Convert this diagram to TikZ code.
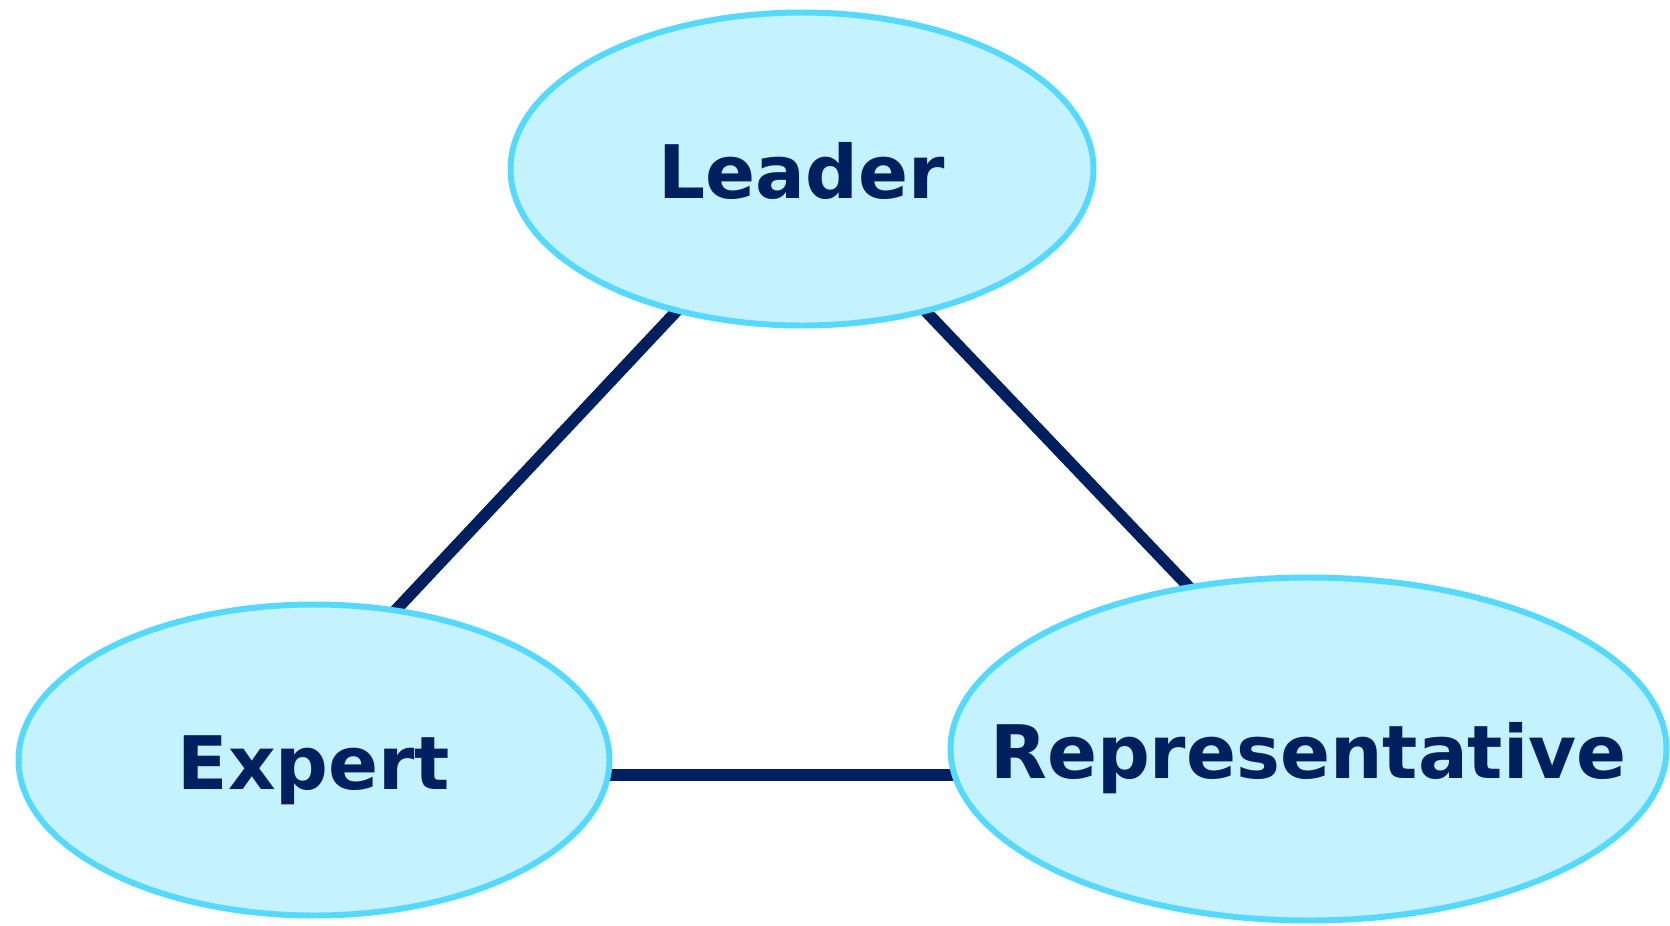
\documentclass[tikz,border=0pt]{standalone}
\usepackage{fontspec}
\setmainfont{DejaVu Sans}
\usetikzlibrary{shapes.geometric,backgrounds}
\definecolor{rolefill}{HTML}{C4F2FF}
\definecolor{roleline}{HTML}{55D9FF}
\definecolor{navy}{HTML}{001F5F}
\begin{document}
\begin{tikzpicture}[
		role/.style={ellipse, line width=1.7pt, draw=roleline, fill=rolefill, text=navy,
			font=\fontsize{21pt}{25pt}\selectfont\bfseries, inner xsep=-0.7cm, inner ysep=0pt,
			text height=0.58cm, text depth=0pt},
		link/.style={line width=3.3pt, draw=navy}
	]
		\useasboundingbox (0,0) rectangle (16.70,-9.26);

		\node[role, minimum width=5.83cm, minimum height=3.13cm] (leader) at (8.02,-1.69) {Leader};
		\node[role, minimum width=5.91cm, minimum height=3.11cm] (expert) at (3.14,-7.60) {Expert};
		\node[role, minimum width=7.16cm, minimum height=3.43cm] (rep) at (13.085,-7.49) {Representative};

		\begin{scope}[on background layer]
			\draw[link] ([xshift=0.08cm]leader.center) -- ([xshift=-0.59cm]expert.center);
			\draw[link] ([xshift=-0.12cm]leader.center) -- ([xshift=0.35cm]rep.center);
			\draw[link] ([yshift=-0.15cm]expert.center) -- ([yshift=-0.26cm]rep.center);
		\end{scope}
	\end{tikzpicture}
\end{document}
